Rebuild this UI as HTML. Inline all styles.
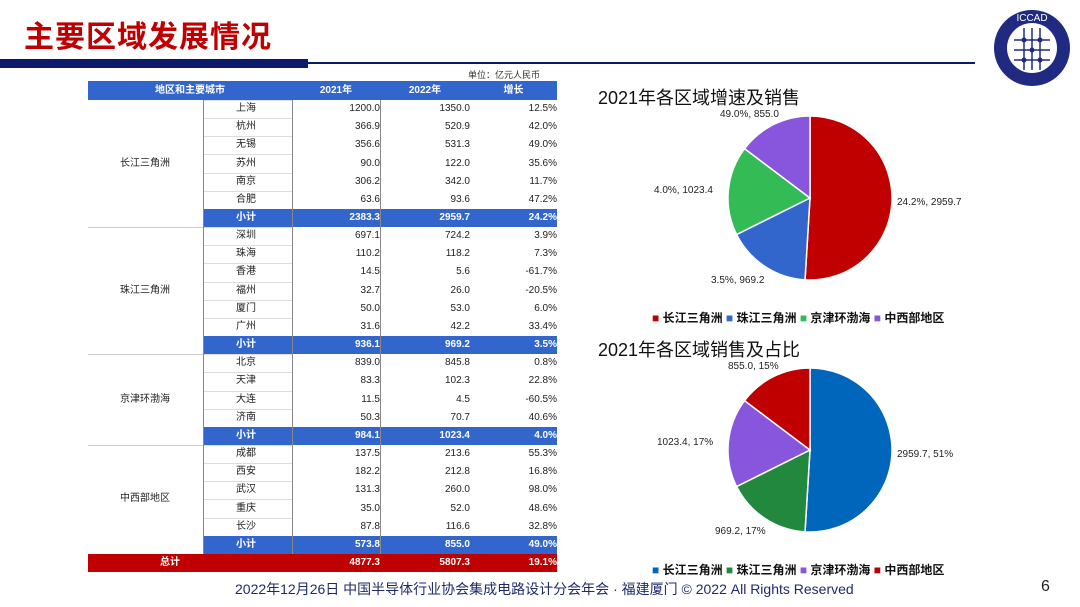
<!DOCTYPE html>
<html><head><meta charset="utf-8"><style>
body{margin:0;width:1080px;height:607px;background:#fff;position:relative;overflow:hidden;font-family:"Liberation Sans","Noto Sans CJK SC",sans-serif;}
.a{position:absolute;white-space:nowrap}
table{position:absolute;left:88px;top:81px;border-collapse:collapse;border-spacing:0;font-size:10px;color:#222;table-layout:fixed;width:469px}
td{height:18.16px;padding:0;line-height:14px;box-sizing:border-box;overflow:hidden;border:none}
.h td{background:#3366cc;color:#fff;font-weight:bold;text-align:center;height:19px}
.s td{background:#3366cc;color:#fff;font-weight:bold}
.t td{background:#c00000;color:#fff;font-weight:bold}
.r{text-align:right}
.c1{width:115px}.c2{width:89px;padding-left:33px;box-shadow:inset 1px 0 0 #888}.c3{width:88px;box-shadow:inset 1px 0 0 #888}.c4{width:90px;box-shadow:inset 1px 0 0 #888}.c5{width:87px}
.ln{box-shadow:inset 1px 0 0 #888,inset 0 1px 0 #ddd}
</style></head><body>
<div class="a" style="left:24px;top:12px;font-size:30px;font-weight:bold;color:#c00000;letter-spacing:1px">主要区域发展情况</div>
<div class="a" style="left:0;top:59px;width:308px;height:9px;background:#0d1a6b"></div>
<div class="a" style="left:308px;top:62px;width:667px;height:2px;background:#0d1a6b"></div>
<svg class="a" style="left:992px;top:8px" width="80" height="80" viewBox="0 0 80 80">
<circle cx="40" cy="40" r="38" fill="#1f2a80"/><circle cx="40" cy="40" r="25" fill="#fff"/>
<g stroke="#1f2a80" stroke-width="1.5"><line x1="22" y1="32" x2="58" y2="32"/><line x1="22" y1="42" x2="58" y2="42"/><line x1="22" y1="52" x2="58" y2="52"/><line x1="32" y1="20" x2="32" y2="62"/><line x1="40" y1="20" x2="40" y2="62"/><line x1="48" y1="20" x2="48" y2="62"/></g>
<g fill="#1f2a80"><circle cx="32" cy="32" r="2.5"/><circle cx="40" cy="42" r="2.5"/><circle cx="48" cy="32" r="2.5"/><circle cx="32" cy="52" r="2.5"/><circle cx="48" cy="52" r="2.5"/></g>
<text x="40" y="13" fill="#fff" font-size="10" text-anchor="middle" font-family="Liberation Sans">ICCAD</text></svg>
<div class="a" style="left:468px;top:68px;font-size:9px;color:#333">单位：亿元人民币</div>
<table id="tb"></table>
<div class="a" style="left:598px;top:84px;font-size:18px;color:#111">2021年各区域增速及销售</div>
<div class="a" style="left:598px;top:336px;font-size:18px;color:#111">2021年各区域销售及占比</div>
<svg class="a" style="left:0;top:0" width="1080" height="607" id="pies"></svg>
<div class="a" style="left:652px;top:309px;font-size:12px;font-weight:bold;color:#111"><span style="color:#c00000">■</span> 长江三角洲 <span style="color:#3366cc">■</span> 珠江三角洲 <span style="color:#33bb55">■</span> 京津环渤海 <span style="color:#8855dd">■</span> 中西部地区</div>
<div class="a" style="left:652px;top:561px;font-size:12px;font-weight:bold;color:#111"><span style="color:#0066bb">■</span> 长江三角洲 <span style="color:#22883e">■</span> 珠江三角洲 <span style="color:#8855dd">■</span> 京津环渤海 <span style="color:#c00000">■</span> 中西部地区</div>
<div class="a" style="left:235px;top:579px;font-size:14px;color:#1f2a6b">2022年12月26日 中国半导体行业协会集成电路设计分会年会 · 福建厦门 © 2022 All Rights Reserved</div>
<div class="a" style="left:1041px;top:578px;font-size:16px;color:#222">6</div>
<script>
var g=[["长江三角洲",[["上海","1200.0","1350.0","12.5%"],["杭州","366.9","520.9","42.0%"],["无锡","356.6","531.3","49.0%"],["苏州","90.0","122.0","35.6%"],["南京","306.2","342.0","11.7%"],["合肥","63.6","93.6","47.2%"]],["2383.3","2959.7","24.2%"]],
["珠江三角洲",[["深圳","697.1","724.2","3.9%"],["珠海","110.2","118.2","7.3%"],["香港","14.5","5.6","-61.7%"],["福州","32.7","26.0","-20.5%"],["厦门","50.0","53.0","6.0%"],["广州","31.6","42.2","33.4%"]],["936.1","969.2","3.5%"]],
["京津环渤海",[["北京","839.0","845.8","0.8%"],["天津","83.3","102.3","22.8%"],["大连","11.5","4.5","-60.5%"],["济南","50.3","70.7","40.6%"]],["984.1","1023.4","4.0%"]],
["中西部地区",[["成都","137.5","213.6","55.3%"],["西安","182.2","212.8","16.8%"],["武汉","131.3","260.0","98.0%"],["重庆","35.0","52.0","48.6%"],["长沙","87.8","116.6","32.8%"]],["573.8","855.0","49.0%"]]];
var h='<colgroup><col style="width:115px"><col style="width:89px"><col style="width:88px"><col style="width:90px"><col style="width:87px"></colgroup><tr class="h"><td colspan="2">地区和主要城市</td><td>2021年</td><td>2022年</td><td>增长</td></tr>';
g.forEach(function(x,gi){x[1].forEach(function(r,i){h+='<tr>'+(i==0?'<td class="c1" rowspan="'+(x[1].length+1)+'" style="padding-left:32px;'+(gi>0?'box-shadow:inset 0 1px 0 #ccc':'')+'">'+x[0]+'</td>':'')+'<td class="c2 ln">'+r[0]+'</td><td class="c3 r">'+r[1]+'</td><td class="c4 r">'+r[2]+'</td><td class="c5 r">'+r[3]+'</td></tr>';});
h+='<tr class="s"><td class="c2">小计</td><td class="c3 r">'+x[2][0]+'</td><td class="c4 r">'+x[2][1]+'</td><td class="c5 r">'+x[2][2]+'</td></tr>';});
h+='<tr class="t"><td colspan="2" style="text-align:center;padding-right:40px">总计</td><td class="r">4877.3</td><td class="r">5807.3</td><td class="r">19.1%</td></tr>';
document.getElementById('tb').innerHTML=h;
function pie(cx,cy,r,vals,cols){var t=vals.reduce(function(a,b){return a+b}),a=-Math.PI/2,s='';
vals.forEach(function(v,i){var b=a+v/t*2*Math.PI;s+='<path d="M'+cx+','+cy+'L'+(cx+r*Math.cos(a))+','+(cy+r*Math.sin(a))+'A'+r+','+r+' 0 '+(b-a>Math.PI?1:0)+' 1 '+(cx+r*Math.cos(b))+','+(cy+r*Math.sin(b))+'Z" fill="'+cols[i]+'" stroke="#fff" stroke-width="1.5"/>';a=b;});return s;}
var s=pie(810,198,82,[2959.7,969.2,1023.4,855],["#c00000","#3366cc","#33bb55","#8855dd"])+pie(810,450,82,[2959.7,969.2,1023.4,855],["#0066bb","#22883e","#8855dd","#c00000"]);
function tx(x,y,t){return '<text x="'+x+'" y="'+y+'" font-size="10" fill="#222" font-family="Liberation Sans">'+t+'</text>';}
s+=tx(720,117,"49.0%, 855.0")+tx(654,193,"4.0%, 1023.4")+tx(897,205,"24.2%, 2959.7")+tx(711,283,"3.5%, 969.2");
s+=tx(728,369,"855.0, 15%")+tx(657,445,"1023.4, 17%")+tx(897,457,"2959.7, 51%")+tx(715,534,"969.2, 17%");
document.getElementById('pies').innerHTML=s;
</script>
</body></html>
